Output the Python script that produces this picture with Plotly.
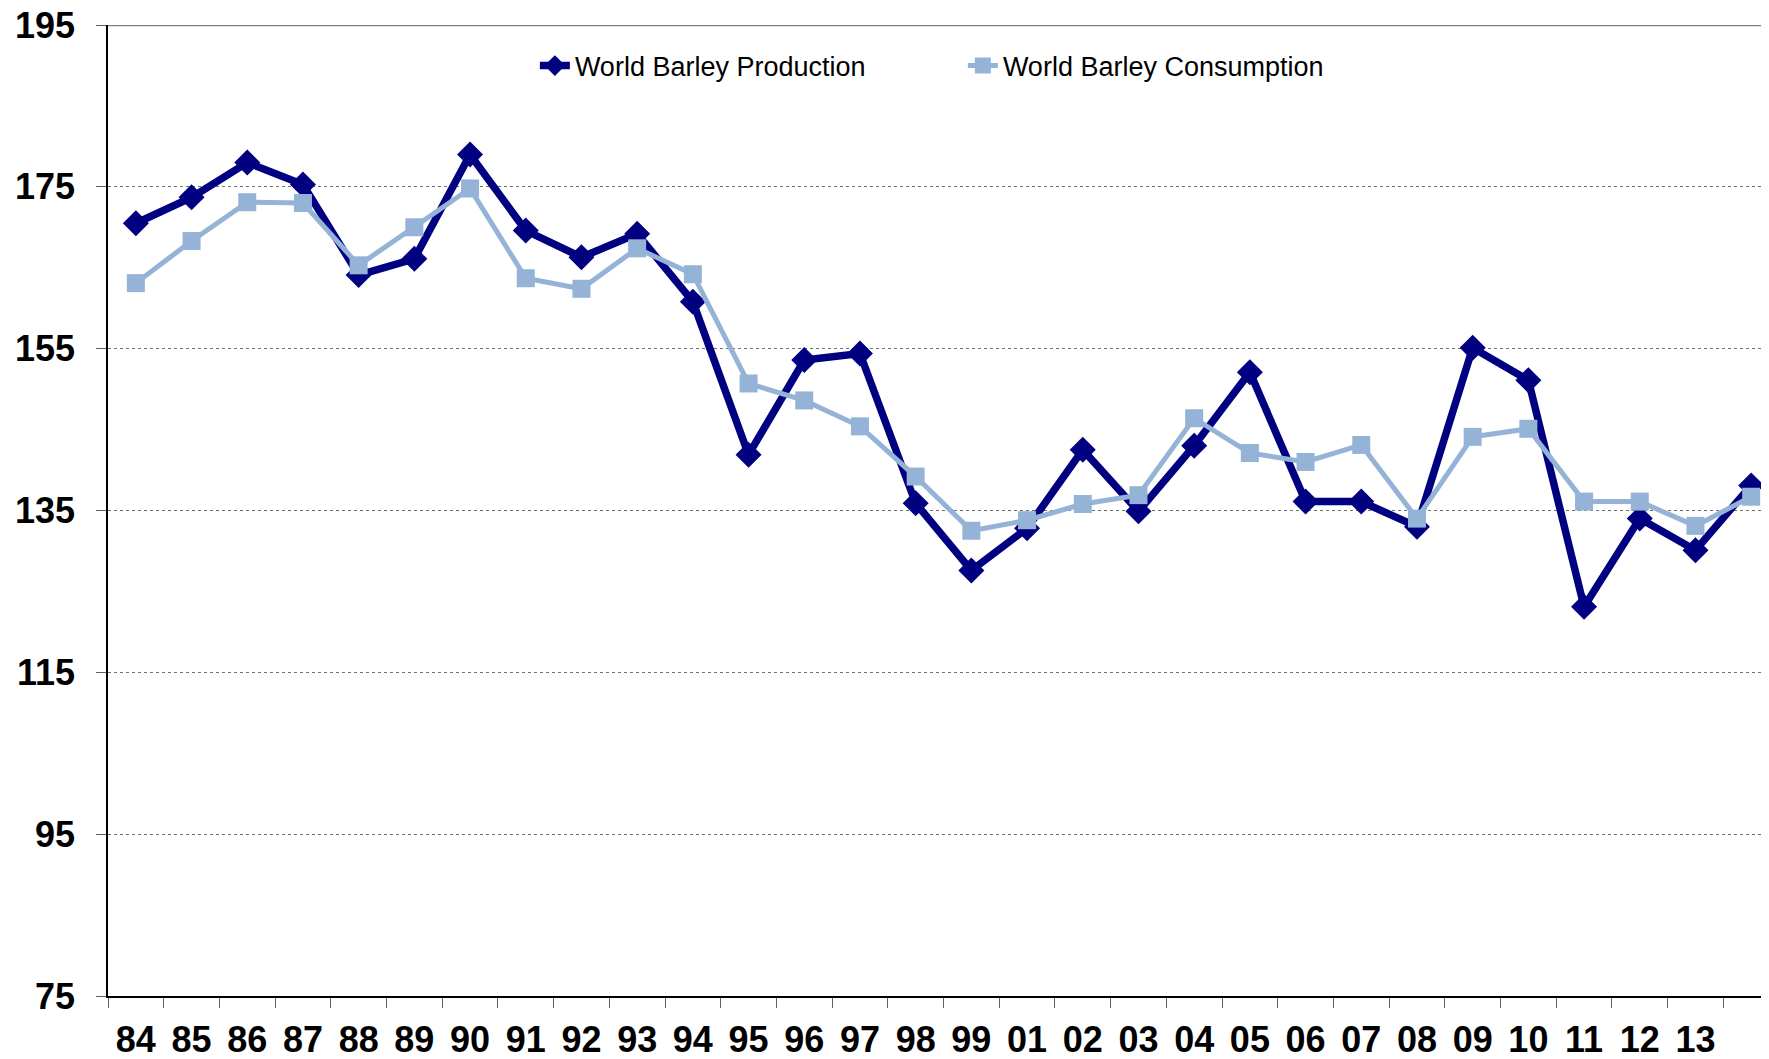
import plotly.graph_objects as go

years = ["84", "85", "86", "87", "88", "89", "90", "91", "92", "93", "94", "95", "96", "97", "98", "99",
         "01", "02", "03", "04", "05", "06", "07", "08", "09", "10", "11", "12", "13", "14"]
year_labels = ["84", "85", "86", "87", "88", "89", "90", "91", "92", "93", "94", "95", "96", "97", "98", "99",
               "01", "02", "03", "04", "05", "06", "07", "08", "09", "10", "11", "12", "13", ""]

production = [170.5, 173.7, 178.0, 175.3, 164.1, 166.1, 179.0, 169.6, 166.3, 169.2, 160.8, 141.9, 153.6, 154.4,
              135.9, 127.6, 132.8, 142.5, 134.9, 143.0, 152.1, 136.1, 136.1, 133.0, 155.1, 151.1, 123.1, 134.0,
              130.1, 138.1]
consumption = [163.1, 168.3, 173.1, 173.0, 165.3, 170.0, 174.8, 163.7, 162.4, 167.4, 164.2, 150.7, 148.6, 145.4,
               139.2, 132.5, 133.8, 135.8, 136.9, 146.4, 142.1, 141.0, 143.1, 134.0, 144.1, 145.1, 136.1, 136.1,
               133.1, 136.7]

y_ticks = [75, 95, 115, 135, 155, 175, 195]

FONT = "Liberation Sans, Arial, sans-serif"

fig = go.Figure()
fig.add_trace(go.Scatter(
    x=years, y=production, name="World Barley Production", mode="lines+markers",
    line=dict(color="#000080", width=7.5),
    marker=dict(symbol="diamond", size=20, color="#000080"),
))
fig.add_trace(go.Scatter(
    x=years, y=consumption, name="World Barley Consumption", mode="lines+markers",
    line=dict(color="#95B3D7", width=5),
    marker=dict(symbol="square", size=18, color="#95B3D7"),
))

fig.add_shape(type="line", xref="paper", x0=0, x1=1, yref="y", y0=195, y1=195,
              line=dict(color="#808080", width=2.5), layer="below")

fig.update_layout(
    width=1761, height=1051,
    margin=dict(l=100, r=0, t=17, b=63, autoexpand=False),
    paper_bgcolor="white", plot_bgcolor="white",
    showlegend=True,
    legend=dict(
        orientation="h", x=0.257, xanchor="left", y=0.983, yanchor="top",
        font=dict(family=FONT, size=27, color="black"),
        entrywidth=383, bgcolor="rgba(0,0,0,0)",
    ),
    xaxis=dict(
        type="category", categoryorder="array", categoryarray=years,
        tickmode="array", tickvals=years, ticktext=year_labels,
        range=[-0.5, 29.32], tickson="boundaries",
        ticks="outside", ticklen=10, tickcolor="#606060", tickwidth=1,
        showline=True, linecolor="black", linewidth=2,
        showgrid=False, zeroline=False,
        tickfont=dict(family=FONT, size=36, color="black", weight="bold"),
        ticklabelstandoff=11, ticklabeloverflow="allow",
        automargin=False,
    ),
    yaxis=dict(
        range=[75, 195], tickmode="array", tickvals=y_ticks,
        ticks="outside", ticklen=10, tickcolor="#606060", tickwidth=1,
        showline=True, linecolor="black", linewidth=1.5,
        showgrid=True, gridcolor="#707070", gridwidth=1, griddash="dot",
        zeroline=False,
        tickfont=dict(family=FONT, size=36, color="black", weight="bold"),
        ticklabelstandoff=14, ticklabeloverflow="allow",
        automargin=False,
    ),
)

fig.write_html("out.html")
